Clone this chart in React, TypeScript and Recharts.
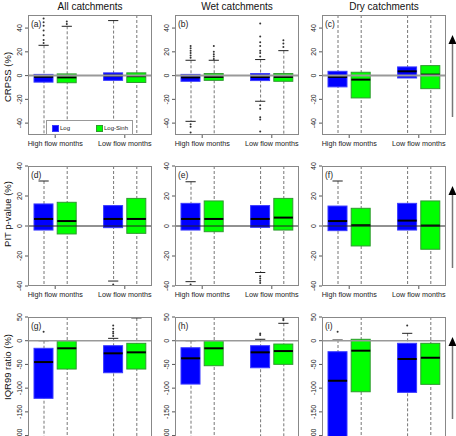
import React from 'react'
import { Bar, Cell, ComposedChart, ReferenceLine, Scatter, XAxis, YAxis } from 'recharts'

// slot layout on the x axis: two groups of two boxes with an empty slot between
const slots = ['HF Log', 'HF Log-Sinh', 'gap', 'LF Log', 'LF Log-Sinh']
const boxSlots = [0, 1, 3, 4]
const groupTicks = [0.5, 3.5]
const groupLabels = ['High flow months', 'Low flow months']
const methods = ['Log', 'Log-Sinh']
const colTitles = ['All catchments', 'Wet catchments', 'Dry catchments']
const rowTitles = ['CRPSS (%)', 'PIT p-value (%)', 'IQR99 ratio (%)']
const tags = ['(a)', '(b)', '(c)', '(d)', '(e)', '(f)', '(g)', '(h)', '(i)']

const skillTicks = [-40, -20, 0, 20, 40]
const ratioTicks = [50, 0, -50, -100, -150, -200]
const crpssRange = [-50, 51]
const pitRange = [-40, 40]
const ratioRange = [-203, 50]

// boxes: [lower quartile, median, upper quartile] for HF Log, HF Log-Sinh, LF Log, LF Log-Sinh
// whiskers: [low end, high end]; an end sitting on the axis limit runs off the plot
// outliers: points beyond the whiskers
const boxA = [[-5.5, -1, 1], [-6, -1.5, 1.4], [-4, 0, 2.3], [-5.8, -0.5, 2.3]]
const whiskA = [[-50, 25.5], [-50, 41.5], [-50, 46.3], [-50, 51]]
const outA = [[27.5, 30, 34, 38, 42, 45, 48], [43.5, 45.5], [], []]

const boxB = [[-4.8, -1.5, 1], [-4, -1.1, 1.7], [-4.2, -1.2, 1.7], [-4.8, -1.1, 1.7]]
const whiskB = [[-38.5, 12.9], [-50, 12.9], [-21.6, 13.5], [-50, 21]]
const outB = [
  [15, 17, 19, 21, 23, 25, -41, -43, -48],
  [14, 16, 18, 20, 25],
  [16, 19, 21, 25, 28, 33, 43.8, -25, -28, -35, -37, -47],
  [24, 27, 29.7],
]

const boxC = [[-9.5, -1.1, 3.6], [-18.8, -3.4, 2.8], [-2, 3.6, 7.3], [-11, 0.8, 8.4]]
const whiskC = [[-50, 51], [-50, 51], [-50, 51], [-50, 51]]
const outC = [[], [], [], []]

const boxD = [[-2.7, 4.7, 14.7], [-5.3, 3.3, 15.8], [-1.1, 4.7, 13.6], [-4.9, 4.7, 18.4]]
const whiskD = [[-40, 30], [-40, 40], [-36.7, 40], [-40, 40]]
const outD = [[], [], [-39], []]

const boxE = [[-2.7, 4.7, 15.1], [-3.8, 4.7, 16.7], [-0.9, 4.7, 13.6], [-2.7, 5.6, 18.4]]
const whiskE = [[-37.1, 29.5], [-40, 40], [-31, 40], [-40, 40]]
const outE = [[-39], [], [-33.5, -35, -36.5, -38], []]

const boxF = [[-3.1, 3.3, 13.3], [-13.3, 0.5, 11.8], [-2.7, 3.6, 15.1], [-15.5, 0.3, 16.7]]
const whiskF = [[-40, 30], [-40, 40], [-40, 40], [-40, 40]]
const outF = [[], [], [], []]

const boxG = [[-121.5, -45, -16], [-59.7, -16, 0], [-67.5, -26.6, -10.5], [-59.7, -24.5, -5.5]]
const whiskG = [[-203, 0], [-203, 50], [-203, 5], [-203, 48]]
const outG = [[19], [], [10, 15, 19, 25, 32], []]

const boxH = [[-91.4, -37.1, -14.8], [-52.7, -16, 0], [-57, -24.5, -10.5], [-49.8, -21.8, -7]]
const whiskH = [[-203, 0], [-203, 50], [-203, 3], [-203, 36.7]]
const outH = [[], [], [12, 15], [43, 46, 49]]

const boxI = [[-203, -84.4, -23.2], [-107.6, -21, 3], [-108.9, -38.6, -5.5], [-92, -35.9, -5.5]]
const whiskI = [[-203, 1.5], [-203, 50], [-203, 15.6], [-203, 50]]
const outI = [[19], [], [32], []]

const fills = ['#0000ff', '#00ff00']
const strokes = ['#3b3bff', '#2f9a2f']
const font = '"Liberation Sans", Arial, sans-serif'

const colLeft = [28, 175, 322]
const rowTop = [15, 166, 317]
const plotW = 124
const plotH = 120
const axisW = 30
const axisH = 20
const padTop = 6
const rowRange = [crpssRange, pitRange, ratioRange]
const rowTicks = [skillTicks, skillTicks, ratioTicks]
const zeroStyle = [
  { stroke: '#999', w: 2 },
  { stroke: '#222', w: 1 },
  { stroke: '#999', w: 1.5 },
]

const BoxShape = (p: any) => {
  if (!p.height || isNaN(p.height)) return null
  const y = Math.min(p.y, p.y + p.height)
  return <rect x={p.x} y={y} width={p.width} height={Math.abs(p.height)} fill={p.fill} stroke={p.stroke} strokeWidth={1} />
}

const WhiskShape = (p: any) => {
  if (!p.height || isNaN(p.height)) return null
  const cx = p.x + p.width / 2
  return <line x1={cx} x2={cx} y1={p.y} y2={p.y + p.height} stroke="#777" strokeDasharray="3 2" />
}

const OutDot = (p: any) => <circle cx={p.cx} cy={p.cy} r={1} fill="#333" />

const RotTick = (p: any) => {
  const bx = p.x - 1
  return (
    <text x={bx} y={p.y} transform={`rotate(-90 ${bx} ${p.y})`} textAnchor="middle" fontSize={7} fill="#222" fontFamily={font}>
      {p.payload.value}
    </text>
  )
}

function Panel({ col, row, box, whisk, out }: any) {
  const left = colLeft[col]
  const top = rowTop[row]
  const domain = rowRange[row]
  const data = slots.map((slot, s) => {
    const i = boxSlots.indexOf(s)
    return {
      slot,
      box: i < 0 ? null : [box[i][0], box[i][2]],
      whisk: i < 0 ? null : whisk[i],
      m: i < 0 ? 0 : i % 2,
    }
  })
  const points = out.flatMap((vals: number[], i: number) => vals.map((v) => ({ x: boxSlots[i], y: v })))
  const inside = (v: number) => v > domain[0] && v < domain[1]
  const tag = tags[row * 3 + col]

  return (
    <>
      <div style={{ position: 'absolute', left: left - axisW, top: top - padTop }}>
        <ComposedChart
          width={axisW + plotW}
          height={padTop + plotH + axisH}
          data={data}
          margin={{ top: padTop, right: 0, bottom: 0, left: 0 }}
        >
          <XAxis xAxisId="whisk" dataKey="slot" type="category" hide orientation="top" height={0} padding={{ left: 4, right: 4 }} />
          <XAxis xAxisId="cat" dataKey="slot" type="category" hide orientation="top" height={0} padding={{ left: 4, right: 4 }} />
          <XAxis
            xAxisId="num"
            dataKey="x"
            type="number"
            domain={[-0.5, 4.5]}
            allowDataOverflow
            ticks={groupTicks}
            interval={0}
            tickFormatter={(v: number) => groupLabels[v < 2 ? 0 : 1]}
            padding={{ left: 4, right: 4 }}
            height={axisH}
            axisLine={false}
            tickSize={3}
            tickMargin={3}
            tick={{ fontSize: 7.2, fill: '#222', fontFamily: font }}
            tickLine={{ stroke: '#555' }}
          />
          <YAxis
            type="number"
            domain={domain}
            allowDataOverflow
            ticks={rowTicks[row]}
            interval={0}
            width={axisW}
            axisLine={false}
            tickSize={3}
            tickLine={{ stroke: '#555' }}
            tick={(p: any) => <RotTick {...p} />}
          />
          <Bar xAxisId="whisk" dataKey="whisk" barSize={2} isAnimationActive={false} shape={WhiskShape} />
          <Bar xAxisId="cat" dataKey="box" barSize={19} isAnimationActive={false} shape={BoxShape}>
            {data.map((d, k) => (
              <Cell key={k} fill={fills[d.m]} stroke={strokes[d.m]} />
            ))}
          </Bar>
          {boxSlots.map((s, i) => (
            <ReferenceLine
              key={'m' + i}
              xAxisId="num"
              segment={[{ x: s - 0.41, y: box[i][1] }, { x: s + 0.41, y: box[i][1] }]}
              stroke="#000"
              strokeWidth={2}
            />
          ))}
          {boxSlots.flatMap((s, i) =>
            whisk[i]
              .filter((v: number) => inside(v))
              .map((v: number, k: number) => (
                <ReferenceLine
                  key={'c' + i + '-' + k}
                  xAxisId="num"
                  segment={[{ x: s - 0.22, y: v }, { x: s + 0.22, y: v }]}
                  stroke="#222"
                />
              )),
          )}
          <ReferenceLine xAxisId="num" y={0} stroke={zeroStyle[row].stroke} strokeWidth={zeroStyle[row].w} />
          <Scatter xAxisId="num" data={points} dataKey="y" isAnimationActive={false} shape={OutDot} />
        </ComposedChart>
      </div>
      <div
        style={{
          position: 'absolute',
          left,
          top,
          width: plotW,
          height: plotH,
          border: '1px solid #888',
          boxSizing: 'border-box',
          pointerEvents: 'none',
        }}
      />
      <div style={{ position: 'absolute', left: left + 3, top: top + 4, fontSize: 8.5, lineHeight: '10px', color: '#222' }}>{tag}</div>
      {row === 0 && (
        <div
          style={{
            position: 'absolute',
            left,
            top: top - 14,
            width: plotW,
            textAlign: 'center',
            fontSize: 10,
            lineHeight: '12px',
            color: '#111',
          }}
        >
          {colTitles[col]}
        </div>
      )}
      {row === 0 && col === 0 && (
        <div
          style={{
            position: 'absolute',
            left: left + 18,
            top: top + 105,
            width: 87,
            height: 15,
            border: '1px solid #999',
            boxSizing: 'border-box',
            background: '#fff',
            fontSize: 6,
            color: '#222',
          }}
        >
          {methods.map((m, i) => (
            <React.Fragment key={m}>
              <div style={{ position: 'absolute', left: 5 + i * 44, top: 4, width: 5, height: 5, background: fills[i], border: '0.5px solid ' + strokes[i] }} />
              <div style={{ position: 'absolute', left: 13 + i * 44, top: 2.5, lineHeight: '8px' }}>{m}</div>
            </React.Fragment>
          ))}
        </div>
      )}
    </>
  )
}

export default function App() {
  const panels = [
    [boxA, whiskA, outA],
    [boxB, whiskB, outB],
    [boxC, whiskC, outC],
    [boxD, whiskD, outD],
    [boxE, whiskE, outE],
    [boxF, whiskF, outF],
    [boxG, whiskG, outG],
    [boxH, whiskH, outH],
    [boxI, whiskI, outI],
  ]
  const labelY = [77, 214, 367]
  return (
    <div style={{ position: 'absolute', left: 0, top: 0, width: 456, height: 436, overflow: 'hidden', background: '#fff', fontFamily: font }}>
      {panels.map((p, k) => (
        <Panel key={k} col={k % 3} row={Math.floor(k / 3)} box={p[0]} whisk={p[1]} out={p[2]} />
      ))}
      <svg width={456} height={436} style={{ position: 'absolute', left: 0, top: 0, pointerEvents: 'none' }}>
        {rowTitles.map((t, r) => (
          <text key={t} x={10.5} y={labelY[r]} transform={`rotate(-90 10.5 ${labelY[r]})`} textAnchor="middle" fontSize={9.5} fill="#111" fontFamily={font}>
            {t}
          </text>
        ))}
        {rowTop.map((t) => (
          <g key={t}>
            <line x1={452.5} x2={452.5} y1={t + 28} y2={t + 102} stroke="#777" strokeWidth={1.5} />
            <polygon points={`452.5,${t + 20} 448.5,${t + 29} 456.5,${t + 29}`} fill="#000" />
          </g>
        ))}
      </svg>
    </div>
  )
}
